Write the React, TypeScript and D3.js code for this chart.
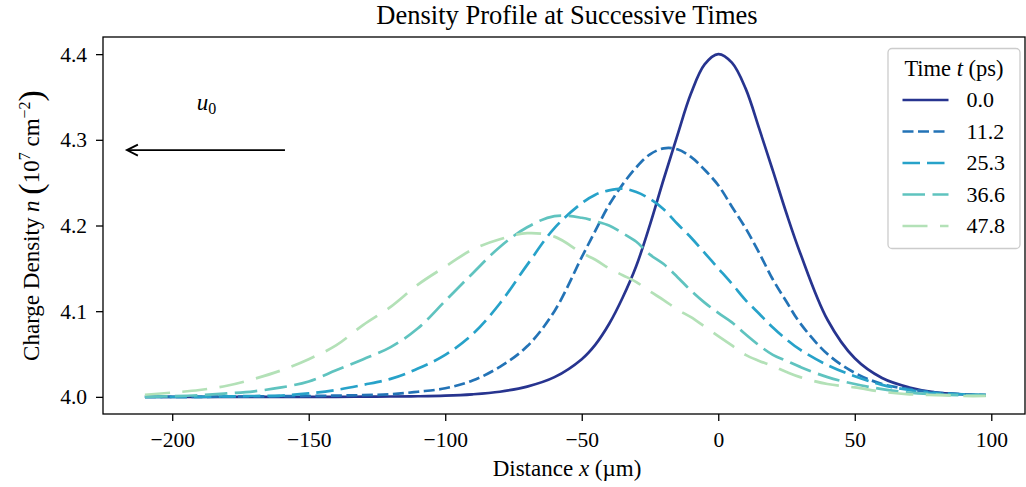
import React, { useEffect, useRef } from 'react';
import * as d3 from 'd3';

// sample positions (µm) shared by every profile
const distance = [-210, -200, -190, -180, -170, -160, -150, -140, -130, -120, -110, -100, -90, -80, -70, -60, -50, -45, -40, -35, -30, -25, -20, -15, -10, -5, 0, 5, 10, 15, 20, 25, 30, 40, 50, 60, 70, 80, 90, 98];

// charge density (1e7 cm^-2)
const n_t00 = [4.0, 4.0, 4.0, 4.0, 4.0, 4.0, 4.0, 4.0, 4.0002, 4.0004, 4.0007, 4.0014, 4.003, 4.006, 4.012, 4.023, 4.044, 4.061, 4.085, 4.116, 4.153, 4.201, 4.254, 4.305, 4.354, 4.388, 4.4, 4.39, 4.36, 4.313, 4.264, 4.214, 4.168, 4.09, 4.045, 4.022, 4.011, 4.005, 4.003, 4.002];
const n_t11 = [4.0, 4.0, 4.0, 4.0003, 4.0005, 4.0008, 4.001, 4.0015, 4.002, 4.003, 4.006, 4.01, 4.019, 4.035, 4.059, 4.1, 4.163, 4.194, 4.224, 4.248, 4.268, 4.283, 4.29, 4.289, 4.28, 4.265, 4.247, 4.222, 4.197, 4.168, 4.137, 4.111, 4.086, 4.05, 4.028, 4.015, 4.009, 4.005, 4.003, 4.002];
const n_t25 = [4.0, 4.0, 4.0, 4.0005, 4.001, 4.0015, 4.004, 4.008, 4.014, 4.021, 4.033, 4.049, 4.073, 4.109, 4.154, 4.197, 4.226, 4.236, 4.241, 4.243, 4.239, 4.231, 4.219, 4.202, 4.186, 4.168, 4.15, 4.132, 4.113, 4.097, 4.081, 4.067, 4.055, 4.037, 4.024, 4.014, 4.008, 4.004, 4.003, 4.002];
const n_t36 = [4.0, 4.0008, 4.002, 4.004, 4.0065, 4.011, 4.018, 4.031, 4.044, 4.058, 4.08, 4.112, 4.144, 4.175, 4.198, 4.211, 4.209, 4.205, 4.2, 4.191, 4.181, 4.166, 4.155, 4.14, 4.124, 4.11, 4.098, 4.087, 4.073, 4.06, 4.049, 4.042, 4.035, 4.023, 4.015, 4.009, 4.005, 4.003, 4.002, 4.002];
const n_t47 = [4.0025, 4.005, 4.008, 4.013, 4.021, 4.031, 4.044, 4.06, 4.084, 4.105, 4.131, 4.152, 4.172, 4.184, 4.191, 4.187, 4.168, 4.16, 4.15, 4.142, 4.134, 4.123, 4.113, 4.102, 4.093, 4.082, 4.071, 4.06, 4.049, 4.042, 4.036, 4.029, 4.023, 4.015, 4.011, 4.006, 4.003, 4.002, 4.001, 4.001];

const timeLabels = ['0.0', '11.2', '25.3', '36.6', '47.8'];
const profiles = [n_t00, n_t11, n_t25, n_t36, n_t47];
const colors = ['#27348f', '#2373b6', '#27a2c9', '#5fc3bf', '#b3e1b7'];
const dashes = ['none', '11,4.5', '17.5,7', '22.5,7.5', '25,12.5'];

const xTicks = [-200, -150, -100, -50, 0, 50, 100];
const yTicks = [4.0, 4.1, 4.2, 4.3, 4.4];

const FONT = '"Liberation Serif", "Times New Roman", serif';

export default function App() {
  const ref = useRef<SVGSVGElement>(null);

  useEffect(() => {
    drawChart();
  }, []);

  function drawChart() {
    const svg = d3.select(ref.current);
    svg.selectAll('*').remove();

    const left = 103, right = 1025, top = 37, bottom = 414;

    const x = d3.scaleLinear().domain([-225.35, 112.35]).range([left, right]);
    const y = d3.scaleLinear().domain([3.98, 4.42]).range([bottom, top]);

    svg.append('rect').attr('width', 1026).attr('height', 487).attr('fill', '#fff');

    // curves
    const line = d3
      .line<number>()
      .x((d, i) => x(distance[i]))
      .y(d => y(d))
      .curve(d3.curveCatmullRom.alpha(0.5));

    profiles.forEach((p, i) => {
      svg
        .append('path')
        .datum(p)
        .attr('d', line)
        .attr('fill', 'none')
        .attr('stroke', colors[i])
        .attr('stroke-width', 2.7)
        .attr('stroke-dasharray', dashes[i]);
    });

    // axes
    const xAxis = svg
      .append('g')
      .attr('transform', `translate(0,${bottom})`)
      .call(d3.axisBottom(x).tickValues(xTicks).tickSize(7).tickSizeOuter(0).tickPadding(11));
    const yAxis = svg
      .append('g')
      .attr('transform', `translate(${left},0)`)
      .call(d3.axisLeft(y).tickValues(yTicks).tickFormat(d3.format('.1f')).tickSize(7).tickSizeOuter(0).tickPadding(9));

    [xAxis, yAxis].forEach(a => {
      a.select('.domain').remove();
      a.selectAll('line').attr('stroke', '#000').attr('stroke-width', 1.3);
      a.selectAll('text').attr('font-family', FONT).attr('font-size', 21.5).attr('fill', '#000');
    });

    // spines
    svg
      .append('rect')
      .attr('x', left)
      .attr('y', top)
      .attr('width', right - left)
      .attr('height', bottom - top)
      .attr('fill', 'none')
      .attr('stroke', '#000')
      .attr('stroke-width', 1.3);

    // title
    svg
      .append('text')
      .attr('x', (left + right) / 2 + 3)
      .attr('y', 24)
      .attr('text-anchor', 'middle')
      .attr('font-family', FONT)
      .attr('font-size', 26.5)
      .text('Density Profile at Successive Times');

    // x label
    const xl = svg
      .append('text')
      .attr('x', (left + right) / 2 + 3)
      .attr('y', 476)
      .attr('text-anchor', 'middle')
      .attr('font-family', FONT)
      .attr('font-size', 23);
    xl.append('tspan').text('Distance ');
    xl.append('tspan').attr('font-style', 'italic').text('x');
    xl.append('tspan').text(' (µm)');

    // y label
    const yl = svg
      .append('text')
      .attr('transform', `translate(39,${(top + bottom) / 2}) rotate(-90)`)
      .attr('text-anchor', 'middle')
      .attr('font-family', FONT)
      .attr('font-size', 23);
    yl.append('tspan').text('Charge Density ');
    yl.append('tspan').attr('font-style', 'italic').text('n');
    yl.append('tspan').text('  ');
    yl.append('tspan').attr('font-size', 34).attr('dy', 3).text('(');
    yl.append('tspan').attr('dy', -3).text('10');
    yl.append('tspan').attr('font-size', 16).attr('dy', -9).text('7');
    yl.append('tspan').attr('dy', 9).text(' cm');
    yl.append('tspan').attr('font-size', 16).attr('dy', -9).text('−2');
    yl.append('tspan').attr('font-size', 34).attr('dy', 12).text(')');

    // velocity arrow annotation
    const ax0 = x(-158.7), ax1 = x(-216.6), ay = y(4.288);
    svg
      .append('line')
      .attr('x1', ax0)
      .attr('x2', ax1)
      .attr('y1', ay)
      .attr('y2', ay)
      .attr('stroke', '#000')
      .attr('stroke-width', 1.8);
    svg
      .append('path')
      .attr('d', `M${ax1 + 11},${ay - 5.5}L${ax1},${ay}L${ax1 + 11},${ay + 5.5}`)
      .attr('fill', 'none')
      .attr('stroke', '#000')
      .attr('stroke-width', 1.8);
    const u0 = svg
      .append('text')
      .attr('x', x(-191))
      .attr('y', y(4.335))
      .attr('font-family', FONT)
      .attr('font-size', 23);
    u0.append('tspan').attr('font-style', 'italic').text('u');
    u0.append('tspan').attr('font-size', 16).attr('dy', 4).text('0');

    // legend
    const lx = 888, ly = 48.5;
    svg
      .append('rect')
      .attr('x', lx)
      .attr('y', ly)
      .attr('width', 132)
      .attr('height', 200)
      .attr('rx', 4)
      .attr('fill', '#fff')
      .attr('fill-opacity', 0.8)
      .attr('stroke', '#cccccc')
      .attr('stroke-width', 1.3);
    const lt = svg
      .append('text')
      .attr('x', lx + 66)
      .attr('y', 76)
      .attr('text-anchor', 'middle')
      .attr('font-family', FONT)
      .attr('font-size', 22.5);
    lt.append('tspan').text('Time ');
    lt.append('tspan').attr('font-style', 'italic').text('t');
    lt.append('tspan').text(' (ps)');

    timeLabels.forEach((t, i) => {
      const yy = 100 + i * 31.5;
      svg
        .append('line')
        .attr('x1', 902.5)
        .attr('x2', 948.5)
        .attr('y1', yy)
        .attr('y2', yy)
        .attr('stroke', colors[i])
        .attr('stroke-width', 2.7)
        .attr('stroke-dasharray', dashes[i]);
      svg
        .append('text')
        .attr('x', 966.5)
        .attr('y', yy + 7)
        .attr('font-family', FONT)
        .attr('font-size', 22)
        .text(t);
    });
  }

  return (
    <svg
      ref={ref}
      width={1026}
      height={487}
      style={{ position: 'absolute', left: 0, top: 0, display: 'block' }}
    />
  );
}
